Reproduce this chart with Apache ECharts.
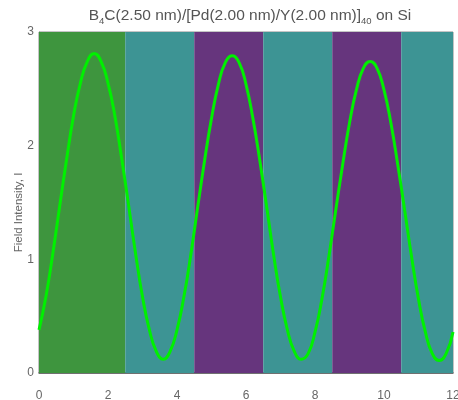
<!DOCTYPE html>
<html>
<head>
<meta charset="utf-8">
<script src="https://cdn.jsdelivr.net/npm/echarts@6/dist/echarts.min.js"></script>
<style>html,body{margin:0;padding:0;background:#fff}#c{width:458px;height:400px}</style>
</head>
<body>
<div id="c"></div>
<script>
// depth (nm)
var depth = [0,0.2,0.4,0.6,0.8,1.0,1.2,1.4,1.6,1.8,2.0,2.2,2.4,2.6,2.8,3.0,3.2,3.4,3.6,3.8,
  4.0,4.2,4.4,4.6,4.8,5.0,5.2,5.4,5.6,5.8,6.0,6.2,6.4,6.6,6.8,7.0,7.2,7.4,7.6,7.8,
  8.0,8.2,8.4,8.6,8.8,9.0,9.2,9.4,9.6,9.8,10.0,10.2,10.4,10.6,10.8,11.0,11.2,11.4,11.6,11.8,12.0];
// field intensity
var intensity = [0.38,0.67,1.05,1.47,1.88,2.26,2.55,2.74,2.81,2.74,2.55,2.26,1.88,1.47,1.05,0.67,0.38,0.19,0.12,0.19,
  0.38,0.67,1.04,1.46,1.87,2.24,2.54,2.73,2.79,2.73,2.54,2.24,1.87,1.46,1.04,0.67,0.38,0.19,0.12,0.17,
  0.36,0.65,1.02,1.43,1.83,2.20,2.49,2.68,2.74,2.68,2.49,2.20,1.83,1.43,1.02,0.65,0.36,0.17,0.11,0.17,0.36];
// layers
var layerMaterial = ['B4C','Pd','Y','Pd','Y','Pd'];
var layerStart = [0, 2.5, 4.5, 6.5, 8.5, 10.5];
var layerEnd   = [2.5, 4.5, 6.5, 8.5, 10.5, 12];
var xTicks = [0, 2, 4, 6, 8, 10, 12];
var yTicks = [0, 1, 2, 3];

var materialColor = {B4C: '#3e953e', Pd: '#3d9494', Y: '#66357d'};

var chart = echarts.init(document.getElementById('c'), null, {renderer: 'canvas'});
var areas = layerMaterial.map(function (m, i) {
  return [{xAxis: layerStart[i], itemStyle: {color: materialColor[m], opacity: 1}}, {xAxis: layerEnd[i]}];
});
var font = 'Liberation Sans';
chart.setOption({
  animation: false,
  title: {
    text: '{n|B}{s|4}{n|C(2.50 nm)/[Pd(2.00 nm)/Y(2.00 nm)]}{s|40}{n| on Si}',
    left: 245, textAlign: 'center', top: 1,
    textStyle: {
      rich: {
        n: {fontFamily: font, fontSize: 15.5, color: '#555', lineHeight: 20, fontWeight: 'normal'},
        s: {fontFamily: font, fontSize: 9.5, color: '#555', lineHeight: 20, padding: [10, 0, 0, 0], fontWeight: 'normal'}
      }
    }
  },
  grid: {left: 39, right: 5, top: 32, bottom: 27, outerBoundsMode: 'none', containLabel: false,
    show: true, borderColor: '#8a8a8a', borderWidth: 1, backgroundColor: 'transparent'},
  xAxis: {
    type: 'value', min: xTicks[0], max: xTicks[xTicks.length - 1], interval: xTicks[1] - xTicks[0],
    axisLine: {show: true, lineStyle: {color: '#555', width: 1.5}},
    axisTick: {show: false}, splitLine: {show: false},
    axisLabel: {color: '#666', fontFamily: font, fontSize: 12, margin: 17}
  },
  yAxis: {
    type: 'value', min: yTicks[0], max: yTicks[yTicks.length - 1], interval: yTicks[1] - yTicks[0],
    name: 'Field Intensity, I', nameLocation: 'middle', nameGap: 14, nameMoveOverlap: false,
    nameTextStyle: {color: '#666', fontFamily: font, fontSize: 11.5, padding: [0, 20, 0, 0]},
    axisLine: {show: true, lineStyle: {color: '#999'}},
    axisTick: {show: false}, splitLine: {show: false},
    axisLabel: {color: '#666', fontFamily: font, fontSize: 12, margin: 5, padding: [3, 0, 0, 0]}
  },
  series: [{
    type: 'line',
    data: depth.map(function (d, i) { return [d, intensity[i]]; }),
    smooth: true, showSymbol: false,
    lineStyle: {color: '#00f000', width: 3},
    markArea: {silent: true, data: areas},
    z: 3
  }]
});
</script>
</body>
</html>
